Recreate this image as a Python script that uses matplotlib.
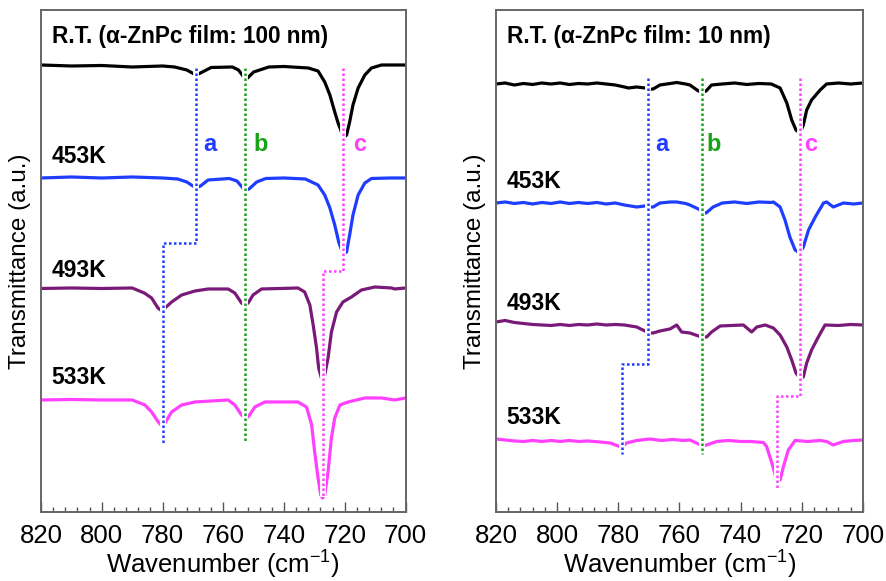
import matplotlib.pyplot as plt
from matplotlib.ticker import MultipleLocator

plt.rcParams['font.family'] = ['Liberation Sans', 'DejaVu Sans']
plt.rcParams['mathtext.fontset'] = 'custom'
plt.rcParams['mathtext.rm'] = 'Liberation Sans'
plt.rcParams['mathtext.it'] = 'Liberation Sans:italic'

# ---- 100 nm film (offset spectra, a.u.) ----
wn_rt_100 = [820, 810, 800, 790, 780, 776, 772, 769, 767.5, 764, 757, 755, 753, 752, 750, 745,
             740, 732, 728.8, 726.6, 724.9, 723.3, 722.2, 721.3, 720.5, 719.4, 718.4, 717.3,
             715.6, 713.4, 711.2, 707.9, 700]
t_rt_100 = [44.7, 44.6, 44.65, 44.5, 44.6, 44.5, 44.2, 43.7, 43.9, 44.45, 44.5, 44.2, 43.4, 43.4, 44.0, 44.5,
            44.55, 44.4, 44.1, 43.0, 41.7, 40.0, 38.9, 38.2, 37.4, 37.7, 39.0, 40.7,
            42.4, 43.7, 44.4, 44.7, 44.7]

wn_453_100 = [820, 810, 800, 790, 780, 775, 772, 769, 767.5, 765, 758, 755.5, 753, 751.5, 749, 746,
              740, 733, 728.8, 726.6, 724.9, 723.3, 722, 721.3, 720.5, 719.4, 718.4, 717.3,
              715.6, 713.4, 711.2, 705, 700]
t_453_100 = [33.4, 33.5, 33.4, 33.5, 33.4, 33.3, 33.0, 32.4, 32.6, 33.2, 33.35, 33.1, 32.2, 32.3, 33.0, 33.35,
             33.4, 33.3, 32.7, 31.7, 30.4, 28.7, 27.0, 26.4, 25.8, 26.0, 27.7, 29.7,
             31.7, 32.9, 33.35, 33.4, 33.4]

wn_493_100 = [820, 810, 800, 790, 786, 783.6, 781.5, 780.2, 779.2, 777, 773.7, 769.3, 765, 758.4,
              756.2, 754, 753, 751.8, 750.2, 747.4, 735.4, 733.2, 731.5, 730.4, 729.3, 728.6,
              727.7, 726.6, 725.5, 724.4, 722.7, 720.6, 717.8, 714.5, 710.1, 704.6, 703.6, 700]
t_493_100 = [22.35, 22.4, 22.35, 22.4, 21.9, 21.4, 20.4, 20.1, 20.4, 21.0, 21.7, 22.1, 22.3, 22.3,
             21.9, 20.9, 20.7, 20.9, 21.7, 22.3, 22.4, 22.0, 20.7, 18.7, 16.4, 14.4,
             13.4, 13.7, 15.4, 18.0, 20.0, 21.0, 21.5, 22.2, 22.5, 22.4, 22.3, 22.4]

wn_533_100 = [820, 810, 800, 790, 785.8, 783.6, 781.4, 780.2, 779.2, 777, 773.7, 769.3, 758.4,
              756.2, 754, 752.9, 751.8, 749.6, 746.3, 735.4, 732.6, 730.9, 729.9, 728.8, 727.9,
              727.3, 726.6, 725.5, 724.4, 723.3, 721.6, 718.9, 713.4, 707.9, 703.6, 700]
t_533_100 = [11.2, 11.25, 11.2, 11.2, 10.7, 10.0, 9.0, 8.6, 8.9, 10.0, 10.7, 11.0, 11.2,
             10.7, 9.7, 9.4, 9.5, 10.5, 11.0, 11.0, 10.5, 8.7, 6.0, 3.4, 1.7,
             1.4, 1.7, 4.0, 7.4, 9.4, 10.7, 11.0, 11.4, 11.4, 11.2, 11.4]

# ---- 10 nm film (offset spectra, a.u.) ----
wn_rt_10 = [820, 817, 814, 811, 808, 805, 802, 799, 796, 793, 790, 787, 784, 781, 778, 776.7,
            774, 771.3, 770.2, 768.6, 766.4, 763, 760.9, 758, 756.6, 753.8, 752.5, 751.3, 749.5,
            746, 742, 738, 734, 730, 727.1, 724.9, 723.3, 721.9, 720.6, 719.5, 718.4, 716.8,
            714, 711.9, 708, 704, 700]
t_rt_10 = [42.8, 42.9, 42.7, 42.85, 42.75, 42.9, 42.8, 42.9, 42.75, 42.85, 42.8, 42.9, 42.8, 42.7, 42.5, 42.4,
           42.5, 42.4, 42.25, 42.3, 42.7, 42.85, 42.95, 42.8, 42.7, 42.1, 42.0, 42.1, 42.7,
           42.8, 42.9, 42.75, 42.85, 42.8, 42.4, 40.9, 39.2, 38.2, 37.9, 38.7, 40.2, 41.2,
           42.2, 42.8, 42.9, 42.8, 42.9]

wn_453_10 = [820, 817, 814, 811, 808, 805, 802, 799, 796, 793, 790, 787, 784, 781, 778, 774,
             771.3, 770.2, 768.6, 766.4, 763, 760.9, 758, 756.6, 753.8, 752.5, 751.3, 749, 746,
             742, 738, 734, 730, 729.3, 727.1, 725.5, 723.9, 722.2, 720.6, 719.5, 717.8, 715.6,
             712.9, 711.9, 709.7, 706.4, 703, 700]
t_453_10 = [30.9, 31.0, 30.85, 30.95, 30.8, 30.95, 30.85, 31.0, 30.85, 30.95, 30.85, 30.95, 30.8, 30.9, 30.7, 30.5,
            30.6, 30.5, 30.5, 30.9, 31.0, 31.0, 30.85, 30.7, 30.3, 30.0, 29.9, 30.5, 30.9,
            31.0, 30.85, 31.0, 30.95, 31.0, 30.5, 29.2, 27.5, 26.2, 25.9, 26.5, 28.2, 29.5,
            30.9, 31.0, 30.5, 30.9, 30.8, 30.9]

wn_493_10 = [820, 817, 814, 811, 808, 805, 802, 799, 796, 793, 790, 787, 784, 781, 778, 774,
             771.3, 770.2, 768.6, 766.4, 763.1, 760.9, 759.3, 756.6, 753.8, 752.5, 751.1, 749.5,
             746.7, 743, 739.1, 736.4, 734.7, 732, 729.3, 727.1, 724.9, 723.3, 721.9, 720.6,
             719.5, 718.4, 716.8, 714.6, 712.4, 708, 704, 700]
t_493_10 = [19.0, 19.15, 18.95, 18.85, 18.75, 18.7, 18.65, 18.75, 18.65, 18.75, 18.7, 18.8, 18.7, 18.75, 18.7, 18.5,
            18.1, 17.9, 17.9, 18.1, 18.3, 18.7, 18.0, 17.9, 17.6, 17.5, 17.5, 18.0,
            18.6, 18.65, 18.7, 18.0, 18.5, 18.7, 18.4, 17.7, 16.5, 15.2, 13.9, 13.4,
            13.5, 14.9, 16.2, 17.5, 18.7, 18.65, 18.75, 18.7]

wn_533_10 = [820, 817, 814, 811, 808, 805, 802, 799, 796, 793, 790, 786, 782.7, 780, 778.9, 777.3,
             774, 769.6, 766, 762, 759, 756.6, 753.8, 752.5, 751.1, 747.8, 744, 740, 736.9,
             732.6, 731.5, 729.8, 728.4, 728.2, 727.1, 726, 724.4, 722.2, 718, 714, 711.9,
             709.7, 706.4, 703, 700]
t_533_10 = [7.3, 7.2, 7.1, 7.05, 7.15, 7.05, 7.15, 7.05, 7.15, 7.05, 7.1, 7.0, 6.9, 6.6, 6.45, 6.9,
            7.15, 7.3, 7.15, 7.25, 7.15, 7.2, 6.8, 6.6, 6.7, 7.05, 7.15, 7.05, 7.05,
            6.95, 6.55, 4.9, 3.4, 3.1, 3.2, 4.55, 6.2, 7.15, 7.05, 7.15, 7.05,
            6.7, 7.05, 7.15, 7.2]

temps = ['453K', '493K', '533K']
colors = ['black', '#1f3dff', '#7a1a78', '#ff40ff']
mark_colors = {'a': '#1f3dff', 'b': '#17a317', 'c': '#ff40ff'}

# guide lines: (x path, y path) for peaks a, b, c
guides_100 = {
    'a': ([769, 769, 780, 780], [44.4, 26.9, 26.9, 6.9]),
    'b': ([753, 753], [44.4, 6.9]),
    'c': ([720.5, 720.5, 727.3, 727.3], [44.4, 24.1, 24.1, 1.5]),
}
guides_10 = {
    'a': ([770.2, 770.2, 778.9, 778.9], [43.4, 14.8, 14.8, 5.8]),
    'b': ([752.5, 752.5], [43.4, 5.8]),
    'c': ([720.6, 720.6, 728.2, 728.2], [43.4, 11.6, 11.6, 2.2]),
}
letters_100 = {'a': 764.4, 'b': 747.6, 'c': 715.2}
letters_10 = {'a': 765.6, 'b': 748.8, 'c': 717.0}
temp_y_100 = [35.5, 24.1, 13.4]
temp_y_10 = [33.0, 20.8, 9.4]

panels = [
    ([(wn_rt_100, t_rt_100), (wn_453_100, t_453_100), (wn_493_100, t_493_100), (wn_533_100, t_533_100)],
     guides_100, letters_100, temp_y_100, 'R.T. (α-ZnPc film: 100 nm)', [0.0463, 0.1188, 0.4114, 0.864]),
    ([(wn_rt_10, t_rt_10), (wn_453_10, t_453_10), (wn_493_10, t_493_10), (wn_533_10, t_533_10)],
     guides_10, letters_10, temp_y_10, 'R.T. (α-ZnPc film: 10 nm)', [0.5598, 0.1188, 0.4142, 0.864]),
]

fig = plt.figure(figsize=(8.86, 5.81), dpi=100)

for spectra, guides, letters, temp_y, title, rect in panels:
    ax = fig.add_axes(rect)
    for (wn, t), c in zip(spectra, colors):
        ax.plot(wn, t, color=c, lw=2.3, solid_capstyle='round', zorder=2)
    for key, (gx, gy) in guides.items():
        ax.plot(gx, gy, color='white', lw=4.2, zorder=3, solid_capstyle='butt')
        ax.plot(gx, gy, color=mark_colors[key], lw=1.8, ls=(0, (1, 1)), zorder=4)
        ax.text(letters[key], 36.7, key, color=mark_colors[key], fontsize=17,
                fontweight='bold', ha='center', va='center')
    ax.text(0.03, 0.947, title, transform=ax.transAxes, fontsize=16.3,
            fontweight='bold', ha='left', va='center')
    for lab, y in zip(temps, temp_y):
        ax.text(816.5, y, lab, fontsize=16.5, fontweight='bold', ha='left', va='center')

    ax.set_xlim(820, 700)
    ax.set_ylim(0, 50.2)
    ax.set_yticks([])
    ax.xaxis.set_major_locator(MultipleLocator(20))
    ax.xaxis.set_minor_locator(MultipleLocator(4))
    ax.tick_params(axis='x', which='major', direction='in', length=7, width=1, color='#555555',
                   labelsize=18.5, pad=9)
    ax.tick_params(axis='x', which='minor', direction='in', length=3.5, width=1, color='#555555')
    for sp in ax.spines.values():
        sp.set_color('#666666')
        sp.set_linewidth(1.4)
    ax.set_xlabel('Wavenumber (cm$^{-1}$)', fontsize=18.5, labelpad=0)
    ax.set_ylabel('Transmittance (a.u.)', fontsize=17.5, labelpad=7)

fig.savefig('out.png', dpi=100)
